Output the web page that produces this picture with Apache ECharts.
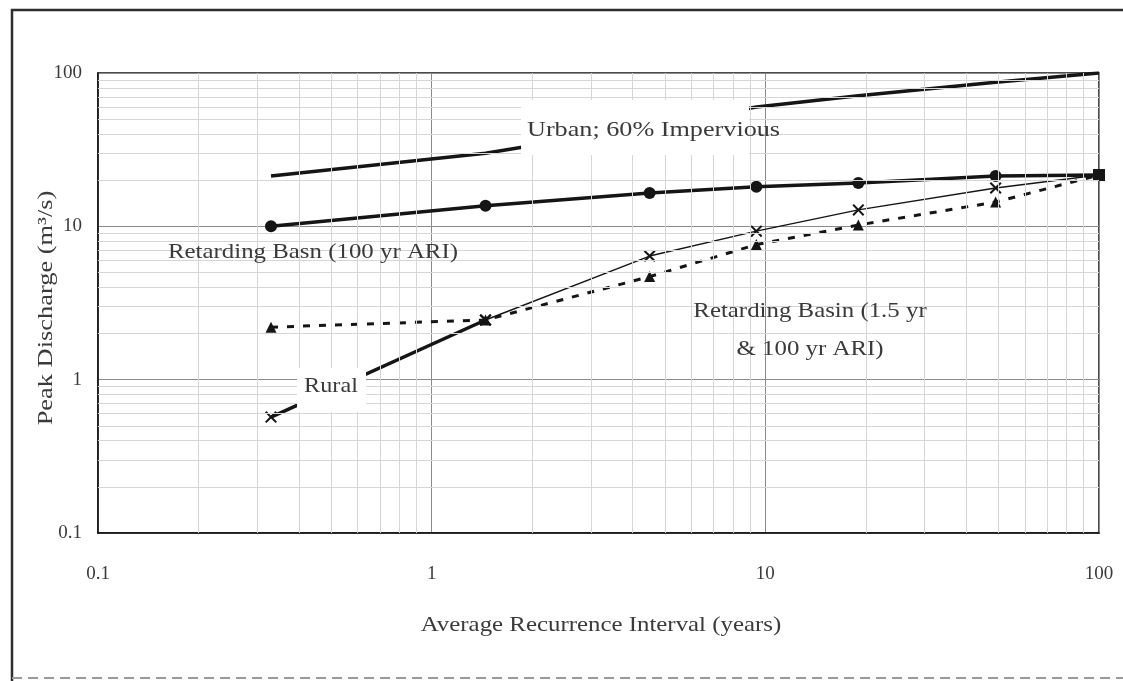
<!DOCTYPE html>
<html>
<head>
<meta charset="utf-8">
<script src="https://cdn.jsdelivr.net/npm/echarts@6/dist/echarts.min.js"></script>
<style>html,body{margin:0;padding:0;background:#fff}#c{width:1123px;height:681px}</style>
</head>
<body>
<div id="c"></div>
<script>
// ---- data ----
const ari = [0.33, 1.45, 4.5, 9.4, 19, 49, 100];           // Average Recurrence Interval (years)
const urban = [21.3, 30, 45, 60, 71, 87, 100];             // Urban; 60% Impervious
const basin100 = [10, 13.6, 16.5, 18.1, 19.2, 21.3, 21.6]; // Retarding Basin (100 yr ARI)
const ruralLow = [0.57, 2.45];                             // Rural (thick part, first two ARIs)
const rural = [2.45, 6.4, 9.3, 12.8, 17.8, 21.6];          // Rural (thin part, from 2nd ARI on)
const basin15 = [2.2, 2.45, 4.7, 7.6, 10.2, 14.4, 21.6];   // Retarding Basin (1.5 yr & 100 yr ARI)
const xTickLabels = ['0.1', '1', '10', '100'];
const yTickLabels = ['0.1', '1', '10', '100'];
const minorGrid = [0.2,0.3,0.4,0.5,0.6,0.7,0.8,0.9,2,3,4,5,6,7,8,9,20,30,40,50,60,70,80,90];

const FONT = '"Liberation Serif","Times New Roman",serif';
const TXT = '#3a3a3a';
const INK = '#151515';

function pairs(xs, ys) { return ys.map((v, i) => [xs[i], v]); }
function tickFmt(labels) {
  return function (v) {
    const idx = Math.round(Math.log10(v)) + 1;
    return labels[idx] !== undefined ? labels[idx] : '';
  };
}
const xMark = 'path://M0,1.2 L1.2,0 L5,3.8 L8.8,0 L10,1.2 L6.2,5 L10,8.8 L8.8,10 L5,6.2 L1.2,10 L0,8.8 L3.8,5 Z';

const basinData = pairs(ari, basin100);
basinData[basinData.length - 1] = { value: basinData[basinData.length - 1], symbol: 'rect', symbolSize: 12 };

function label(text, x, y, align, sx, extra) {
  return Object.assign({
    type: 'text', z: 101, silent: true, x: x, y: y, scaleX: sx,
    style: { text: text, font: '22px ' + FONT, fill: TXT, textAlign: align, textVerticalAlign: 'middle' }
  }, extra || {});
}

const chart = echarts.init(document.getElementById('c'), null, { renderer: 'canvas' });
chart.setOption({
  animation: false,
  backgroundColor: '#fff',
  grid: { left: 98, right: 24, top: 73, bottom: 148, show: true, borderColor: '#111', borderWidth: 1.5, backgroundColor: 'transparent' },
  xAxis: {
    type: 'log', logBase: 10, min: 0.1, max: 100,
    axisLine: { show: true, lineStyle: { color: '#111', width: 1.5 } },
    axisTick: { show: false },
    axisLabel: { formatter: tickFmt(xTickLabels), fontFamily: FONT, fontSize: 19, color: TXT, margin: 32 },
    splitLine: { show: true, lineStyle: { color: '#8a8a8a', width: 1 } }
  },
  yAxis: {
    type: 'log', logBase: 10, min: 0.1, max: 100,
    axisLine: { show: true, lineStyle: { color: '#111', width: 1.5 } },
    axisTick: { show: false },
    axisLabel: { formatter: tickFmt(yTickLabels), fontFamily: FONT, fontSize: 19, color: TXT, margin: 16 },
    splitLine: { show: true, lineStyle: { color: '#8a8a8a', width: 1 } }
  },
  series: [
    {
      name: 'gridMinor', type: 'line', data: [], z: 1, silent: true,
      markLine: {
        silent: true, symbol: 'none', label: { show: false },
        lineStyle: { color: '#d6d6d6', width: 1, type: 'solid' },
        emphasis: { disabled: true },
        data: minorGrid.map(v => ({ xAxis: v })).concat(minorGrid.map(v => ({ yAxis: v })))
      }
    },
    {
      name: 'Urban; 60% Impervious', type: 'line', data: pairs(ari, urban),
      showSymbol: false, symbol: 'none', lineStyle: { color: INK, width: 3.5 }, z: 3
    },
    {
      name: 'Retarding Basin (100 yr ARI)', type: 'line', data: basinData,
      symbol: 'circle', symbolSize: 12, itemStyle: { color: INK }, lineStyle: { color: INK, width: 3.5 }, z: 4
    },
    {
      name: 'Retarding Basin (1.5 yr & 100 yr ARI)', type: 'line', data: pairs(ari, basin15),
      symbol: 'triangle', symbolSize: 11, itemStyle: { color: INK }, lineStyle: { color: INK, width: 3, type: [7, 9] }, z: 3
    },
    {
      name: 'Rural', type: 'line', data: pairs(ari.slice(0, 2), ruralLow),
      symbol: xMark, symbolSize: 12, itemStyle: { color: INK }, lineStyle: { color: INK, width: 3.5 }, z: 3
    },
    {
      name: 'Rural thin', type: 'line', data: pairs(ari.slice(1), rural),
      symbol: xMark, symbolSize: 12, itemStyle: { color: INK }, lineStyle: { color: INK, width: 1.4 }, z: 3
    }
  ],
  graphic: [
    { type: 'rect', z: 100, silent: true, shape: { x: 12, y: 10, width: 1200, height: 700 }, style: { fill: 'none', stroke: '#2e2e2e', lineWidth: 2.5 } },
    { type: 'line', z: 100, silent: true, shape: { x1: 12, y1: 678, x2: 1123, y2: 678 }, style: { stroke: '#9a9a9a', lineWidth: 2, lineDash: [10, 6] } },
    { type: 'rect', z: 90, silent: true, shape: { x: 521, y: 100, width: 228, height: 55 }, style: { fill: '#fff' } },
    { type: 'rect', z: 90, silent: true, shape: { x: 297, y: 368, width: 69, height: 44 }, style: { fill: '#fff' } },
    label('Urban; 60% Impervious', 527, 130, 'left', 1.19),
    label('Retarding Basn (100 yr ARI)', 168, 252, 'left', 1.13),
    label('Retarding Basin (1.5 yr', 810, 311, 'center', 1.13),
    label('& 100 yr ARI)', 810, 349, 'center', 1.13),
    label('Rural', 331, 386, 'center', 1.1),
    label('Average Recurrence Interval (years)', 601, 625, 'center', 1.13),
    label('Peak Discharge (m³/s)', 46, 308, 'center', 1.2, { rotation: Math.PI / 2 })
  ]
});
</script>
</body>
</html>
